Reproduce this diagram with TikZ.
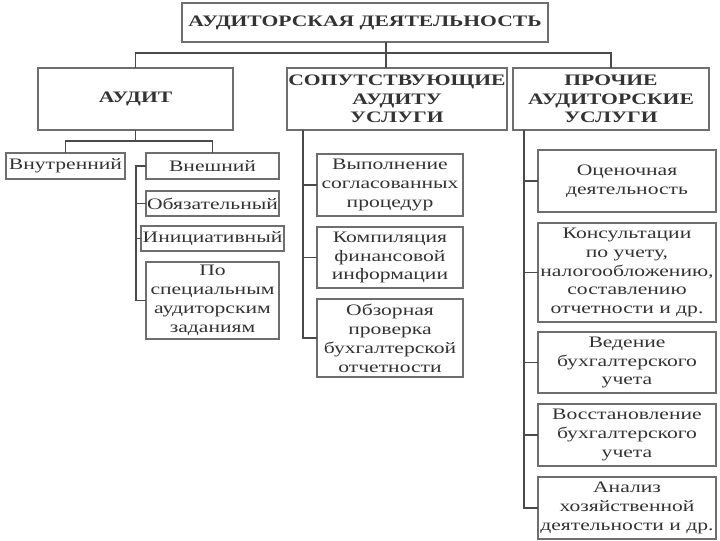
\documentclass[tikz,border=0pt]{standalone}
\usepackage{fontspec}
\setmainfont[FakeStretch=1.35]{Liberation Serif}
\usepackage{xcolor}
\usepackage{tikz}
\usetikzlibrary{positioning}

\definecolor{boxgray}{HTML}{6E6E6E}
\definecolor{linegray}{HTML}{4A4A4A}
\definecolor{textgray}{HTML}{333333}

\begin{document}
\begin{tikzpicture}[x=0.75pt,y=-0.75pt,conn/.style={draw=linegray, line width=1.1pt}]
        \tikzstyle{box} = [draw=boxgray, line width=1.5pt, outer sep=0pt, align=center, inner sep=1pt, text=textgray,
                           font=\fontsize{12}{14.2}\selectfont]
        \tikzstyle{head} = [box, font=\bfseries\fontsize{12}{14}\selectfont]
        \useasboundingbox (0,0) rectangle (720,540);

        % top level
        \node[head, anchor=north west, minimum width=274.5pt, minimum height=29.25pt] (top) at (182,3) {АУДИТОРСКАЯ ДЕЯТЕЛЬНОСТЬ};
        \node[head, anchor=north west, minimum width=146.25pt, minimum height=46.5pt] (aud) at (38,68) {АУДИТ};
        \node[head, anchor=north west, minimum width=161.25pt, minimum height=46.5pt] (sop) at (287,68) {СОПУТСТВУЮЩИЕ\\АУДИТУ\\УСЛУГИ};
        \node[head, anchor=north west, minimum width=147pt, minimum height=46.5pt] (pro) at (513,68) {ПРОЧИЕ\\АУДИТОРСКИЕ\\УСЛУГИ};

        % audit
        \node[box, anchor=north west, minimum width=89.25pt, minimum height=19.5pt] (vnut) at (6,153) {Внутренний};
        \node[box, anchor=north west, minimum width=99.75pt, minimum height=19.5pt] (vnesh) at (146,153) {Внешний};
        \node[box, below = 9pt of vnesh, minimum width=99.75pt, minimum height=18.75pt] (obyaz) {Обязательный};
        \node[box, below = 7.5pt of obyaz, minimum width=99.75pt, minimum height=18.75pt] (inic) {Инициативный};
        \node[box, below = 8.25pt of inic, minimum width=99.75pt, minimum height=57.75pt] (pospec) {По\\специальным\\аудиторским\\заданиям};

        % related services
        \node[box, anchor=north west, minimum width=109.5pt, minimum height=46.5pt] (vyp) at (317,154) {Выполнение\\согласованных\\процедур};
        \node[box, below = 8.25pt of vyp, minimum width=109.5pt, minimum height=45.75pt] (komp) {Компиляция\\финансовой\\информации};
        \node[box, below = 8.25pt of komp, minimum width=109.5pt, minimum height=58.5pt] (obz) {Обзорная\\проверка\\бухгалтерской\\отчетности};

        % other services
        \node[box, anchor=north west, minimum width=133.5pt, minimum height=46.5pt] (ocen) at (538,150) {Оценочная\\деятельность};
        \node[box, below = 8.25pt of ocen, minimum width=133.5pt, minimum height=74.25pt] (kons) {Консультации\\по учету,\\налогообложению,\\составлению\\отчетности и др.};
        \node[box, below = 7.5pt of kons, minimum width=133.5pt, minimum height=45.75pt] (ved) {Ведение\\бухгалтерского\\учета};
        \node[box, below = 8.25pt of ved, minimum width=133.5pt, minimum height=46.5pt] (vos) {Восстановление\\бухгалтерского\\учета};
        \node[box, below = 8.25pt of vos, minimum width=133.5pt, minimum height=46.5pt] (anal) {Анализ\\хозяйственной\\деятельности и др.};

        \coordinate (tj) at (386,0);
        \coordinate (ls) at (136,0);
        \coordinate (ms) at (303,0);
        \coordinate (rs) at (524,0);

        \draw [conn] (top.south -| tj) -- (sop.north -| tj);
        \draw [conn] (aud.north) -- ++(0,-15) -| (pro.north);

        \draw [conn] (aud.south) -- ++(0,11) coordinate (ab);
        \draw [conn] (vnut.north) |- (ab) -| (vnesh.north);
        \draw [conn] (vnesh.west) -- (vnesh.west -| ls) -- (pospec.west -| ls) -- (pospec.west);
        \draw [conn] (obyaz.west -| ls) -- (obyaz.west);
        \draw [conn] (inic.west -| ls) -- (inic.west);

        \draw [conn] (sop.south -| ms) -- (obz.west -| ms) -- (obz.west);
        \draw [conn] (vyp.west -| ms) -- (vyp.west);
        \draw [conn] (komp.west -| ms) -- (komp.west);

        \draw [conn] (pro.south -| rs) -- (anal.west -| rs) -- (anal.west);
        \draw [conn] (ocen.west -| rs) -- (ocen.west);
        \draw [conn] (kons.west -| rs) -- (kons.west);
        \draw [conn] (ved.west -| rs) -- (ved.west);
        \draw [conn] (vos.west -| rs) -- (vos.west);
\end{tikzpicture}
\end{document}
